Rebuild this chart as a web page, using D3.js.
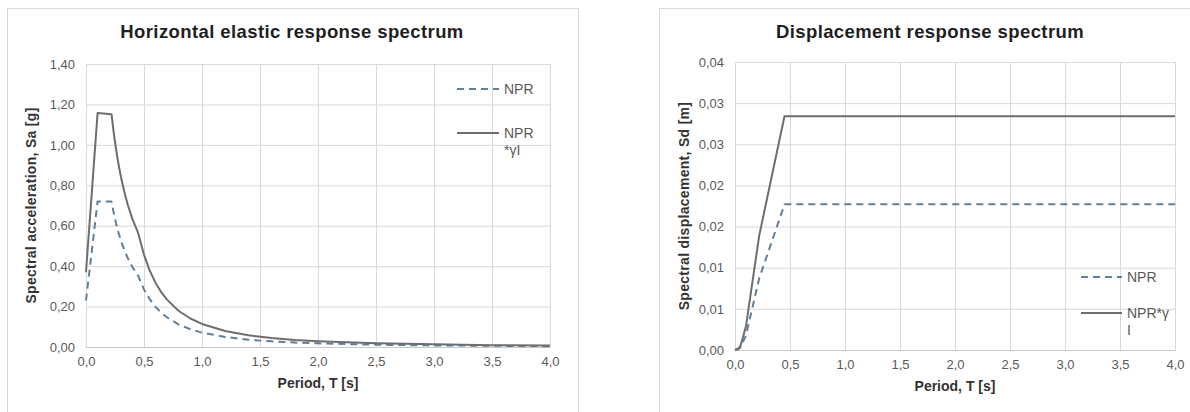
<!DOCTYPE html>
<html>
<head>
<meta charset="utf-8">
<script src="https://cdn.jsdelivr.net/npm/d3@7"></script>
<style>
  body { margin: 0; background: #fff; }
  svg { display: block; font-family: "Liberation Sans", Arial, sans-serif; }
</style>
</head>
<body>
<svg id="chart" width="1190" height="412"></svg>
<script>
// ---- data ----
// acceleration spectrum
var periodSa = [0, 0.1, 0.22, 0.24, 0.26, 0.28, 0.3, 0.33, 0.36, 0.4, 0.45, 0.5, 0.55, 0.6, 0.65, 0.7, 0.8, 0.9, 1.0, 1.2, 1.4, 1.6, 1.8, 2.0, 2.5, 3.0, 3.5, 4.0];
var saNPR = [0.23, 0.72, 0.72, 0.66, 0.609, 0.566, 0.528, 0.48, 0.44, 0.396, 0.352, 0.285, 0.236, 0.198, 0.169, 0.146, 0.111, 0.088, 0.071, 0.050, 0.036, 0.028, 0.022, 0.018, 0.011, 0.008, 0.006, 0.004];
var saNPRgI = [0.37, 1.158, 1.152, 1.056, 0.975, 0.905, 0.845, 0.768, 0.704, 0.634, 0.563, 0.456, 0.377, 0.317, 0.27, 0.233, 0.178, 0.141, 0.114, 0.079, 0.058, 0.045, 0.035, 0.029, 0.018, 0.013, 0.009, 0.007];
var saTicks = [0, 0.2, 0.4, 0.6, 0.8, 1.0, 1.2, 1.4];
var saTickLabels = ["0,00", "0,20", "0,40", "0,60", "0,80", "1,00", "1,20", "1,40"];

// displacement spectrum
var periodSd = [0, 0.03, 0.05, 0.1, 0.22, 0.45, 4.0];
var sdNPR = [0, 0.0001, 0.0003, 0.0018, 0.0087, 0.0177, 0.0177];
var sdNPRgI = [0, 0.0002, 0.0005, 0.0029, 0.0139, 0.0284, 0.0284];
var sdTicks = [0, 0.005, 0.01, 0.015, 0.02, 0.025, 0.03, 0.035];
var sdTickLabels = ["0,00", "0,01", "0,01", "0,02", "0,02", "0,03", "0,03", "0,04"];

var periodTicks = [0, 0.5, 1.0, 1.5, 2.0, 2.5, 3.0, 3.5, 4.0];
var periodTickLabels = ["0,0", "0,5", "1,0", "1,5", "2,0", "2,5", "3,0", "3,5", "4,0"];

var svg = d3.select("#chart");

function drawPanel(opt) {
  // outer frame
  svg.append("rect")
    .attr("x", opt.frame[0] + 0.5).attr("y", opt.frame[1] + 0.5)
    .attr("width", opt.frame[2]).attr("height", opt.frame[3])
    .attr("fill", "#fff").attr("stroke", "#d9d9d9");

  var x = d3.scaleLinear().domain([0, 4]).range([opt.left, opt.right]);
  var y = d3.scaleLinear().domain([0, opt.yMax]).range([opt.bottom, opt.top]);

  // horizontal grid + y labels
  var yAxis = svg.append("g")
    .attr("transform", "translate(" + opt.left + ",0)")
    .call(d3.axisLeft(y).tickValues(opt.yTicks)
      .tickFormat(function(d, i) { return opt.yLabels[i]; })
      .tickSize(-(opt.right - opt.left)).tickPadding(11));
  yAxis.select(".domain").remove();
  yAxis.selectAll("line").attr("stroke", "#d9d9d9");
  yAxis.selectAll("text").attr("fill", "#595959").style("font-size", "13px");

  // vertical grid + x labels
  var xAxis = svg.append("g")
    .attr("transform", "translate(0," + opt.bottom + ")")
    .call(d3.axisBottom(x).tickValues(periodTicks)
      .tickFormat(function(d, i) { return periodTickLabels[i]; })
      .tickSize(-(opt.bottom - opt.top)).tickPadding(10));
  xAxis.select(".domain").attr("stroke", "#c8c8c8");
  xAxis.selectAll("line").attr("stroke", "#d9d9d9");
  xAxis.selectAll("text").attr("fill", "#595959").style("font-size", "13px");

  // series
  function series(xs, ys, color, dash) {
    svg.append("path")
      .datum(xs.map(function(d, i) { return [d, ys[i]]; }))
      .attr("fill", "none")
      .attr("stroke", color)
      .attr("stroke-width", 2)
      .attr("stroke-dasharray", dash)
      .attr("stroke-linejoin", "round")
      .attr("d", d3.line()
        .x(function(d) { return x(d[0]); })
        .y(function(d) { return y(d[1]); }));
  }
  series(opt.xs, opt.s1, "#5f7f9c", "7,5");
  series(opt.xs, opt.s2, "#6e6e6e", null);

  // title
  svg.append("text")
    .attr("x", opt.titleX).attr("y", 38)
    .attr("text-anchor", "middle")
    .attr("fill", "#1f1f1f")
    .style("font-size", "18.5px").style("font-weight", "bold")
    .style("letter-spacing", "0.4px")
    .text(opt.title);

  // axis titles
  svg.append("text")
    .attr("x", (opt.left + opt.right) / 2).attr("y", opt.bottom + 41)
    .attr("text-anchor", "middle").attr("fill", "#333")
    .style("font-size", "14px").style("font-weight", "bold")
    .text("Period, T [s]");
  svg.append("text")
    .attr("transform", "translate(" + opt.yTitleX + "," + ((opt.top + opt.bottom) / 2) + ") rotate(-90)")
    .attr("text-anchor", "middle").attr("fill", "#333")
    .style("font-size", "14px").style("font-weight", "bold")
    .style("letter-spacing", "0.3px")
    .text(opt.yTitle);

  // legend
  var lg = svg.append("g");
  lg.append("line")
    .attr("x1", opt.legX).attr("x2", opt.legX + opt.legW)
    .attr("y1", opt.legY[0]).attr("y2", opt.legY[0])
    .attr("stroke", "#5f7f9c").attr("stroke-width", 2).attr("stroke-dasharray", "7,5");
  lg.append("line")
    .attr("x1", opt.legX).attr("x2", opt.legX + opt.legW)
    .attr("y1", opt.legY[1]).attr("y2", opt.legY[1])
    .attr("stroke", "#6e6e6e").attr("stroke-width", 2);
  lg.append("text")
    .attr("x", opt.legX + opt.legW + 5).attr("y", opt.legY[0] + 5)
    .attr("fill", "#595959").style("font-size", "14px")
    .text("NPR");
  opt.legText2.forEach(function(t, i) {
    lg.append("text")
      .attr("x", opt.legX + opt.legW + 5).attr("y", opt.legY[1] + 5 + i * 17)
      .attr("fill", "#595959").style("font-size", "14px")
      .text(t);
  });
}

drawPanel({
  frame: [7, 8, 571, 410],
  left: 86, right: 550, top: 64, bottom: 347,
  yMax: 1.4, yTicks: saTicks, yLabels: saTickLabels,
  xs: periodSa, s1: saNPR, s2: saNPRgI,
  title: "Horizontal elastic response spectrum", titleX: 292,
  yTitle: "Spectral acceleration, Sa [g]", yTitleX: 36,
  legX: 457, legW: 42, legY: [89, 133], legText2: ["NPR", "*γI"]
});

drawPanel({
  frame: [659, 8, 560, 410],
  left: 735, right: 1175, top: 62, bottom: 350,
  yMax: 0.035, yTicks: sdTicks, yLabels: sdTickLabels,
  xs: periodSd, s1: sdNPR, s2: sdNPRgI,
  title: "Displacement response spectrum", titleX: 930,
  yTitle: "Spectral displacement, Sd [m]", yTitleX: 689,
  legX: 1081, legW: 41, legY: [277, 313], legText2: ["NPR*γ", "I"]
});
</script>
</body>
</html>
